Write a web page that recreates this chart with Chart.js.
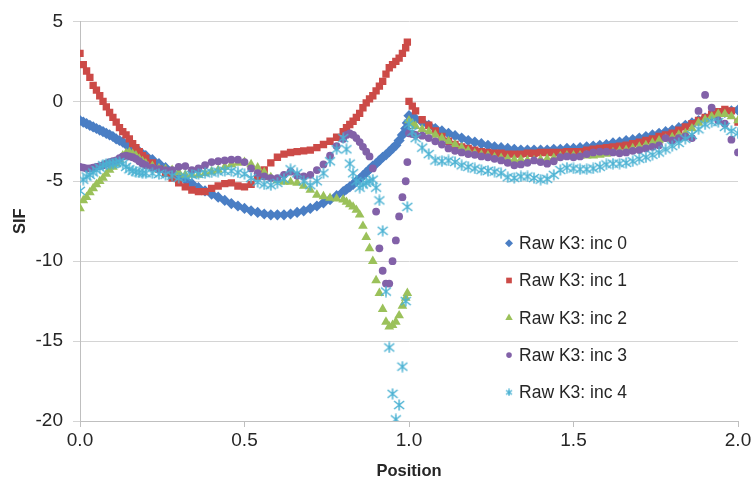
<!DOCTYPE html>
<html>
<head>
<meta charset="utf-8">
<title>Raw K3 SIF</title>
<script src="https://cdn.jsdelivr.net/npm/chart.js@4.4.0/dist/chart.umd.min.js"></script>
<style>
  html, body { margin: 0; padding: 0; background: #fff; }
</style>
</head>
<body>
<canvas id="sif-chart" width="755" height="487"></canvas>
<script>
// Positions along the crack front (finer near the dip before 1.0)
const positions = [
  0.00, 0.01, 0.02, 0.03, 0.04, 0.05, 0.06, 0.07, 0.08, 0.09,
  0.10, 0.11, 0.12, 0.13, 0.14, 0.15, 0.16, 0.17, 0.18, 0.19,
  0.20, 0.22, 0.24, 0.26, 0.28, 0.30, 0.32, 0.34, 0.36, 0.38,
  0.40, 0.42, 0.44, 0.46, 0.48, 0.50, 0.52, 0.54, 0.56, 0.58,
  0.60, 0.62, 0.64, 0.66, 0.68, 0.70, 0.72, 0.74, 0.76, 0.78,
  0.80, 0.81, 0.82, 0.83, 0.84, 0.85, 0.86, 0.87, 0.88, 0.89,
  0.90, 0.91, 0.92, 0.93, 0.94, 0.95, 0.96, 0.97, 0.98, 0.99,
  0.995, 1.00, 1.01,
  1.02, 1.04, 1.06, 1.08, 1.10, 1.12, 1.14, 1.16, 1.18, 1.20,
  1.22, 1.24, 1.26, 1.28, 1.30, 1.32, 1.34, 1.36, 1.38, 1.40,
  1.42, 1.44, 1.46, 1.48, 1.50, 1.52, 1.54, 1.56, 1.58, 1.60,
  1.62, 1.64, 1.66, 1.68, 1.70, 1.72, 1.74, 1.76, 1.78, 1.80,
  1.82, 1.84, 1.86, 1.88, 1.90, 1.92, 1.94, 1.96, 1.98, 2.00
];

const inc0 = [
  -1.2, -1.3, -1.4, -1.5, -1.6, -1.7, -1.8, -1.9, -2.0, -2.1,
  -2.2, -2.35, -2.45, -2.55, -2.7, -2.8, -2.9, -3.05, -3.15, -3.3,
  -3.4, -3.65, -3.9, -4.15, -4.4, -4.65, -4.9, -5.15, -5.4, -5.6,
  -5.8, -6.0, -6.2, -6.4, -6.55, -6.7, -6.85, -6.95, -7.05, -7.1,
  -7.1, -7.1, -7.05, -6.95, -6.85, -6.7, -6.55, -6.35, -6.15, -5.9,
  -5.65, -5.5, -5.35, -5.2, -5.0, -4.85, -4.65, -4.45, -4.25, -4.05,
  -3.9, -3.7, -3.5, -3.35, -3.15, -2.95, -2.75, -2.45, -2.1, -1.7,
  -1.35, -0.9, -1.0,
  -1.1, -1.3, -1.5, -1.7, -1.85, -2.0, -2.15, -2.3, -2.45, -2.55,
  -2.65, -2.75, -2.85, -2.9, -2.95, -3.0, -3.05, -3.05, -3.05, -3.05,
  -3.05, -3.0, -3.0, -2.95, -2.95, -2.9, -2.85, -2.8, -2.75, -2.7,
  -2.6, -2.55, -2.45, -2.4, -2.3, -2.2, -2.1, -2.0, -1.9, -1.8,
  -1.65, -1.5, -1.35, -1.2, -1.05, -0.9, -0.8, -0.7, -0.6, -0.55
];

const inc1 = [
  3.0, 2.3, 1.9, 1.5, 1.0, 0.7, 0.35, 0.0, -0.35, -0.7,
  -1.0, -1.3, -1.65, -1.9, -2.1, -2.35, -2.65, -2.9, -3.15, -3.4,
  -3.55, -3.85, -4.25, -4.5, -4.8, -5.1, -5.35, -5.55, -5.65, -5.65,
  -5.45, -5.3, -5.15, -5.1, -5.3, -5.35, -5.2, -4.7, -4.3, -3.85,
  -3.5, -3.3, -3.2, -3.15, -3.1, -3.05, -2.9, -2.7, -2.5, -2.25,
  -1.9, -1.65, -1.45, -1.25, -1.0, -0.75, -0.4, -0.1, 0.15, 0.35,
  0.65, 0.95, 1.25, 1.7, 2.1, 2.3, 2.5, 2.7, 3.0, 3.35,
  3.7, 0.0, -0.3,
  -0.6, -1.15, -1.5, -1.85, -2.2, -2.5, -2.7, -2.85, -2.95, -3.05,
  -3.15, -3.2, -3.25, -3.25, -3.3, -3.3, -3.3, -3.25, -3.25, -3.2,
  -3.2, -3.2, -3.2, -3.15, -3.15, -3.15, -3.05, -3.0, -2.95, -2.9,
  -2.85, -2.8, -2.75, -2.65, -2.55, -2.45, -2.35, -2.2, -2.1, -2.0,
  -1.8, -1.6, -1.4, -1.2, -1.0, -0.8, -0.65, -0.5, -0.6, -1.3
];

const inc2 = [
  -6.7, -6.2, -6.0, -5.7, -5.45, -5.2, -5.0, -4.8, -4.55, -4.3,
  -4.1, -3.9, -3.65, -3.4, -3.25, -3.2, -3.3, -3.4, -3.6, -3.75,
  -3.9, -4.05, -4.2, -4.25, -4.3, -4.45, -4.6, -4.6, -4.6, -4.5,
  -4.4, -4.3, -4.1, -3.95, -3.85, -3.8, -3.95, -4.15, -4.45, -4.75,
  -4.95, -5.05, -5.05, -5.1, -5.3, -5.55, -5.85, -5.95, -6.05, -6.1,
  -6.15, -6.3, -6.45, -6.6, -6.8, -7.1, -7.8, -8.5, -9.2, -10.0,
  -11.2, -12.0, -13.0, -13.8, -14.1, -14.0, -13.8, -13.4, -12.8, -12.3,
  -12.0, -1.2, -1.4,
  -1.55, -1.75, -1.9, -2.1, -2.3, -2.5, -2.7, -2.9, -3.1, -3.25,
  -3.35, -3.4, -3.5, -3.55, -3.6, -3.65, -3.65, -3.7, -3.7, -3.65,
  -3.6, -3.55, -3.45, -3.4, -3.4, -3.4, -3.4, -3.4, -3.35, -3.3,
  -3.2, -3.1, -3.05, -2.95, -2.85, -2.75, -2.6, -2.45, -2.35, -2.25,
  -2.1, -2.0, -1.7, -1.35, -1.15, -0.95, -0.8, -0.8, -0.95, -1.2
];

const inc3 = [
  -4.1, -4.15, -4.2, -4.2, -4.15, -4.1, -4.05, -4.0, -3.9, -3.8,
  -3.75, -3.7, -3.55, -3.45, -3.4, -3.45, -3.5, -3.6, -3.75, -3.9,
  -4.0, -4.15, -4.25, -4.3, -4.3, -4.1, -4.05, -4.3, -4.2, -4.0,
  -3.8, -3.75, -3.7, -3.65, -3.65, -3.8, -4.2, -4.5, -4.7, -4.8,
  -4.8, -4.6, -4.4, -4.65, -4.7, -4.6, -4.3, -3.95, -3.4, -2.8,
  -2.35, -2.1, -2.0, -2.1, -2.3, -2.55, -2.85, -3.15, -3.45, -4.2,
  -6.9, -9.2, -10.6, -11.4, -11.4, -10.0, -8.7, -7.2, -6.0, -5.0,
  -3.8, -2.0, -2.05,
  -2.1, -2.15, -2.3, -2.5, -2.7, -2.95, -3.1, -3.2, -3.3, -3.35,
  -3.45, -3.5, -3.6, -3.7, -3.85, -4.0, -3.95, -3.85, -3.7, -3.8,
  -3.9, -3.75, -3.5, -3.45, -3.5, -3.45, -3.3, -3.2, -3.15, -3.15,
  -3.2, -3.25, -3.2, -3.1, -3.05, -2.95, -2.85, -2.75, -2.3, -2.45,
  -2.3, -2.2, -2.3, -0.6, 0.4, -0.4, -1.2, -1.4, -2.4, -3.2
];

const inc4 = [
  -5.6, -4.9, -4.7, -4.6, -4.45, -4.3, -4.15, -4.0, -3.95, -3.9,
  -3.9, -3.85, -3.8, -3.9, -4.1, -4.25, -4.35, -4.4, -4.45, -4.5,
  -4.5, -4.5, -4.55, -4.6, -4.65, -4.8, -4.7, -4.6, -4.55, -4.5,
  -4.45, -4.4, -4.35, -4.35, -4.45, -4.55, -4.8, -5.05, -5.2, -5.25,
  -5.1, -4.85, -4.25, -4.5, -5.0, -5.25, -5.0, -4.5, -3.75, -3.0,
  -2.3, -3.0, -3.9, -4.5, -5.0, -5.4, -5.2, -5.1, -5.0, -4.9,
  -5.4, -6.2, -8.1, -11.9, -15.4, -18.3, -19.9, -19.0, -16.6, -12.5,
  -6.6, -1.4, -1.9,
  -2.3, -2.9, -3.3, -3.7, -3.75, -3.7, -3.8, -4.0, -4.1, -4.2,
  -4.3, -4.35, -4.4, -4.5, -4.75, -4.8, -4.7, -4.7, -4.8, -4.9,
  -4.85, -4.6, -4.3, -4.15, -4.2, -4.25, -4.25, -4.2, -4.1, -3.95,
  -3.9, -3.9, -3.85, -3.75, -3.6, -3.5, -3.35, -3.2, -3.0, -2.8,
  -2.6, -2.35, -2.1, -1.75, -1.45, -1.3, -1.3, -1.6, -1.85, -2.0
];

const seriesNames = ['Raw K3: inc 0', 'Raw K3: inc 1', 'Raw K3: inc 2', 'Raw K3: inc 3', 'Raw K3: inc 4'];
const xTicks = [0, 0.5, 1, 1.5, 2];
const xTickLabels = ['0.0', '0.5', '1.0', '1.5', '2.0'];
const yTicks = [-20, -15, -10, -5, 0, 5];
const yTickLabels = ['-20', '-15', '-10', '-5', '0', '5'];

const textColor = '#262626';
const fontName = '"Liberation Sans", Arial, sans-serif';

// asterisk marker, as Excel draws it (no horizontal bar)
const makeStar = (size, color) => {
  const c = document.createElement('canvas');
  c.width = size;
  c.height = size;
  const g = c.getContext('2d');
  g.strokeStyle = color;
  g.lineWidth = 1.5;
  const m = size / 2;
  g.beginPath();
  g.moveTo(m, 0.5); g.lineTo(m, size - 0.5);
  g.moveTo(1, 2); g.lineTo(size - 1, size - 2);
  g.moveTo(size - 1, 2); g.lineTo(1, size - 2);
  g.stroke();
  return c;
};

const styles = [
  { color: '#4a7ec4', point: 'rectRot', radius: 5.6, legendRadius: 4 },
  { color: '#cc4a47', point: 'rect', radius: 5.2, legendRadius: 4 },
  { color: '#9bc15a', point: 'triangle', radius: 5.6, legendRadius: 4.3 },
  { color: '#8261a8', point: 'circle', radius: 3.9, legendRadius: 2.8 },
  { color: '#4bb2d3', point: makeStar(12, '#4bb2d3'), radius: 6, legendRadius: 4, legendPoint: makeStar(8, '#4bb2d3') }
];

const allSeries = [inc0, inc1, inc2, inc3, inc4];

const toPoints = (values) => values.map((v, i) => ({ x: positions[i], y: v }));

const datasets = allSeries.map((values, i) => ({
  label: seriesNames[i],
  data: toPoints(values),
  pointStyle: styles[i].point,
  pointRadius: styles[i].radius,
  backgroundColor: styles[i].color,
  borderColor: styles[i].color,
  borderWidth: 0,
  showLine: false,
  order: allSeries.length - i // later series on top, like the original
}));

// legend inside the plot, right half
const insideLegend = {
  id: 'insideLegend',
  afterDraw(chart) {
    const ctx = chart.ctx;
    const area = chart.chartArea;
    const markX = area.left + (area.right - area.left) * 0.652;
    const top = area.top + (area.bottom - area.top) * 0.555;
    ctx.save();
    ctx.font = '17.5px ' + fontName;
    ctx.textBaseline = 'middle';
    ctx.textAlign = 'left';
    seriesNames.forEach((name, i) => {
      const y = top + i * 37.3;
      const s = styles[i];
      ctx.fillStyle = s.color;
      ctx.strokeStyle = s.color;
      Chart.helpers.drawPoint(ctx, {
        pointStyle: s.legendPoint || s.point,
        radius: s.legendRadius,
        rotation: 0,
        borderWidth: 0
      }, markX, y);
      ctx.fillStyle = textColor;
      ctx.fillText(name, markX + 10, y + 1);
    });
    ctx.restore();
  }
};

new Chart(document.querySelector('#sif-chart'), {
  type: 'scatter',
  data: { datasets },
  plugins: [insideLegend],
  options: {
    responsive: false,
    animation: false,
    events: [],
    layout: { padding: { left: 0, right: 17, top: 21, bottom: 0 } },
    plugins: {
      legend: { display: false },
      tooltip: { enabled: false }
    },
    scales: {
      x: {
        type: 'linear',
        min: 0,
        max: 2,
        afterBuildTicks: (scale) => { scale.ticks = xTicks.map(v => ({ value: v })); },
        afterFit: (scale) => { scale.height = 66; },
        ticks: {
          callback: (v, i) => xTickLabels[i],
          color: textColor,
          font: { family: fontName, size: 19 },
          padding: 2,
          maxRotation: 0
        },
        grid: { drawOnChartArea: false, drawTicks: true, tickLength: 6, color: '#bfbfbf' },
        border: { color: '#bfbfbf' },
        title: {
          display: true,
          text: 'Position',
          color: textColor,
          font: { family: fontName, size: 16.5, weight: 'bold' },
          padding: { top: 0, bottom: 6 }
        }
      },
      y: {
        type: 'linear',
        min: -20,
        max: 5,
        afterBuildTicks: (scale) => { scale.ticks = yTicks.map(v => ({ value: v })); },
        afterFit: (scale) => { scale.width = 80; },
        ticks: {
          callback: (v, i) => yTickLabels[i],
          color: textColor,
          font: { family: fontName, size: 19 },
          padding: 10
        },
        grid: { color: '#d4d4d4', tickLength: 7 },
        border: { color: '#bfbfbf' },
        title: {
          display: true,
          text: 'SIF',
          color: textColor,
          font: { family: fontName, size: 16.5, weight: 'bold' },
          padding: { top: 11, bottom: 0 }
        }
      }
    }
  }
});
</script>
</body>
</html>
